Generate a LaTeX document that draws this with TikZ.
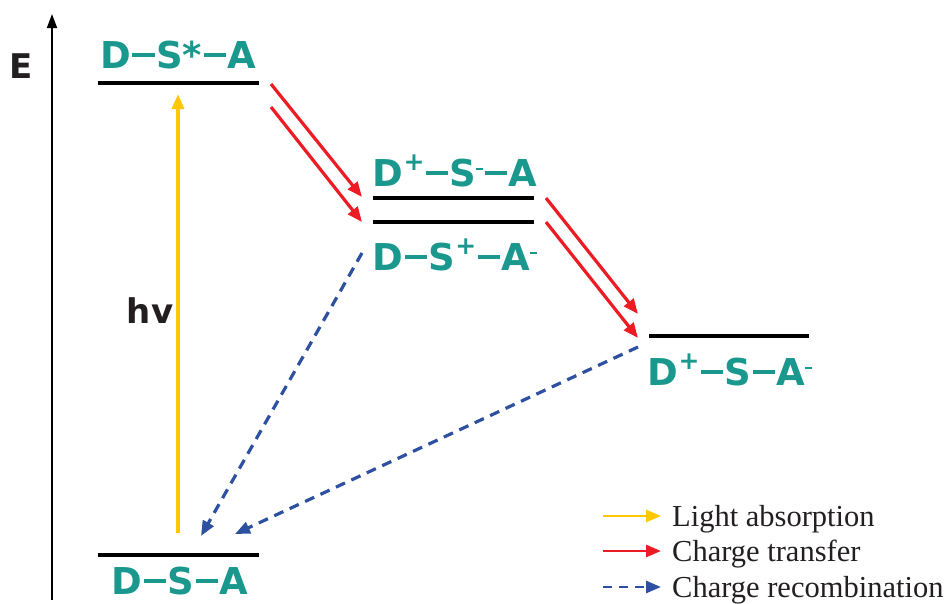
\documentclass[tikz,border=0pt]{standalone}
\usepackage{fontspec}
\setmainfont{Liberation Serif}
\newfontfamily\lvlfont{DejaVu Sans}
\usetikzlibrary{arrows.meta}
\definecolor{teal}{RGB}{26,152,142}
\definecolor{cred}{RGB}{237,28,36}
\definecolor{cblue}{RGB}{46,80,160}
\definecolor{cyel}{RGB}{255,200,0}
\definecolor{ink}{RGB}{35,31,32}
\newcommand\dd{\kern0.04em\raisebox{0.31em}{\rule{0.6em}{0.105em}}\kern0.04em}
\newcommand\upc[1]{\raisebox{0.42em}{\fontsize{25}{25}\selectfont #1}}
\newcommand\mn{\rule[0.02em]{0.28em}{0.1em}}
\begin{document}
\begin{tikzpicture}[x=1pt,y=-1pt,
  lvl/.style={line width=3.2pt,draw=black},
  lbl/.style={text=teal,font=\lvlfont\bfseries\fontsize{37}{37}\selectfont,inner sep=0pt,anchor=center},
  blk/.style={text=ink,font=\lvlfont\bfseries\fontsize{34}{34}\selectfont,inner sep=0pt},
  ct/.style={draw=cred,line width=3.2pt,-{Triangle[length=15pt,width=12pt]}},
  la/.style={draw=cyel,line width=3.5pt,-{Triangle[length=15pt,width=12pt]}},
  cr/.style={draw=cblue,line width=3.2pt,dash pattern=on 10pt off 7pt,-{Triangle[length=15pt,width=12pt]}},
  leg/.style={font=\fontsize{30.5}{30.5}\selectfont,text=ink,anchor=base west,inner sep=0pt}]
\useasboundingbox (0,0) rectangle (948,603);
% energy axis
\coordinate (ax0) at (52,600);
\coordinate (ax1) at (52,14);
\draw[line width=1.8pt,-{Triangle[length=14pt,width=10pt]}] (ax0) -- (ax1);
\node[blk] (E) at (21,66) {E};
% levels
\coordinate (l1a) at (98,83);  \coordinate (l1b) at (259,83);
\coordinate (l2a) at (373,198); \coordinate (l2b) at (534,198);
\coordinate (l3a) at (373,222); \coordinate (l3b) at (534,222);
\coordinate (l4a) at (649,336); \coordinate (l4b) at (809,336);
\coordinate (l5a) at (98,555); \coordinate (l5b) at (259,555);
\draw[lvl] (l1a) -- (l1b);
\draw[lvl] (l2a) -- (l2b);
\draw[lvl] (l3a) -- (l3b);
\draw[lvl] (l4a) -- (l4b);
\draw[lvl] (l5a) -- (l5b);
% labels
\node[lbl] (t1) at (178,55) {D\dd S*\dd A};
\node[lbl] (t2) at (455,171) {D\upc{+}\dd S\upc{\mn}\dd A};
\node[lbl] (t3) at (455,255) {D\dd S\upc{+}\dd A\upc{\mn}};
\node[lbl] (t4) at (730,370) {D\upc{+}\dd S\dd A\upc{\mn}};
\node[lbl] (t5) at (180,581) {D\dd S\dd A};
\node[blk] (hv) at (150,311) {hv};
% arrows
\coordinate (ya) at (178,533); \coordinate (yb) at (178,94);
\draw[la] (ya) -- (yb);
\coordinate (r1a) at (271,84);  \coordinate (r1b) at (362,197);
\coordinate (r2a) at (271,107); \coordinate (r2b) at (362,222);
\coordinate (r3a) at (546,198); \coordinate (r3b) at (638,314);
\coordinate (r4a) at (546,222); \coordinate (r4b) at (638,338);
\draw[ct] (r1a) -- (r1b);
\draw[ct] (r2a) -- (r2b);
\draw[ct] (r3a) -- (r3b);
\draw[ct] (r4a) -- (r4b);
\coordinate (b1a) at (362,253); \coordinate (b1b) at (201,536);
\coordinate (b2a) at (638,347); \coordinate (b2b) at (235,534);
\draw[cr] (b1a) -- (b1b);
\draw[cr] (b2a) -- (b2b);
% legend
\coordinate (g1a) at (603,516); \coordinate (g1b) at (661,516);
\coordinate (g2a) at (603,551); \coordinate (g2b) at (661,551);
\coordinate (g3a) at (603,587); \coordinate (g3b) at (661,587);
\draw[la,line width=2.8pt] (g1a) -- (g1b);
\draw[ct,line width=2.8pt] (g2a) -- (g2b);
\draw[cr,line width=2.8pt,dash pattern=on 9pt off 7pt] (g3a) -- (g3b);
\node[leg] (n1) at (672,526) {Light absorption};
\node[leg] (n2) at (672,561) {Charge transfer};
\node[leg] (n3) at (672,597) {Charge recombination};
\end{tikzpicture}
\end{document}
